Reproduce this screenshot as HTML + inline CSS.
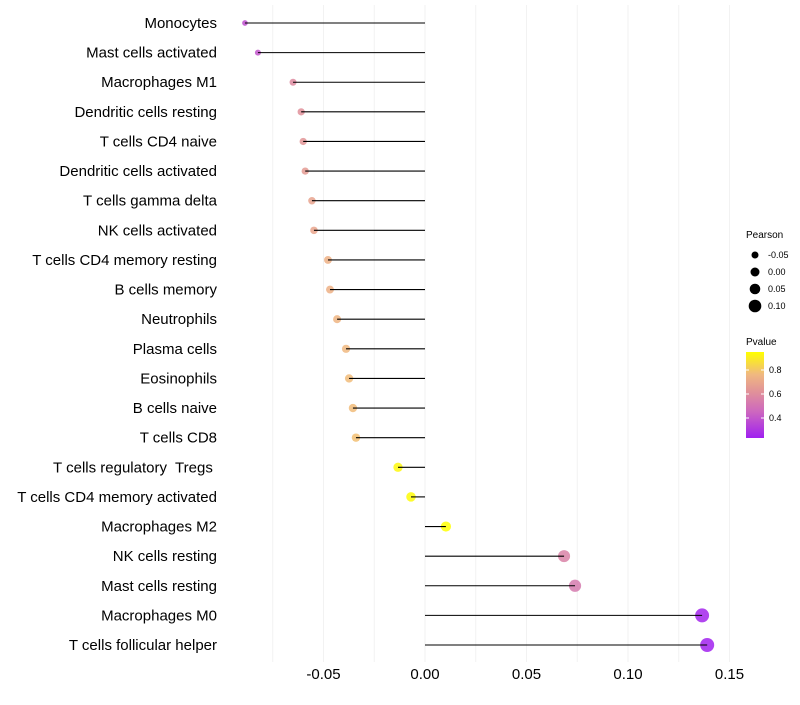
<!DOCTYPE html>
<html><head><meta charset="utf-8"><style>
body{margin:0;background:#fff;width:800px;height:700px;overflow:hidden}
svg{font-family:"Liberation Sans",Arial,sans-serif}
text{white-space:pre}
</style></head><body>
<svg id="chart" width="800" height="700">
<defs><linearGradient id="pg" x1="0" y1="1" x2="0" y2="0">
<stop offset="0" stop-color="#a020f0"/><stop offset="0.3" stop-color="#cc66c0"/><stop offset="0.53" stop-color="#e0909a"/><stop offset="0.74" stop-color="#f0b880"/><stop offset="1" stop-color="#ffff00"/>
</linearGradient></defs>
<g id="grid"></g>
<g id="marks"></g>
<g id="labels"></g>
<g id="xt"></g>
<g font-size="9">
<text x="746" y="238" font-size="10">Pearson</text>
<circle cx="755" cy="255" r="3.5" fill="#000"/><text x="768" y="258">-0.05</text>
<circle cx="755" cy="272" r="4.5" fill="#000"/><text x="768" y="275">0.00</text>
<circle cx="755" cy="289" r="5.3" fill="#000"/><text x="768" y="292">0.05</text>
<circle cx="755" cy="306" r="6.3" fill="#000"/><text x="768" y="309">0.10</text>
</g>
<g font-size="9">
<text x="746" y="345" font-size="10">Pvalue</text>
<rect x="746" y="352" width="18" height="86" fill="url(#pg)"/>
<line x1="746" x2="749" y1="370" y2="370" stroke="#fff"/><line x1="761" x2="764" y1="370" y2="370" stroke="#fff"/>
<line x1="746" x2="749" y1="394" y2="394" stroke="#fff"/><line x1="761" x2="764" y1="394" y2="394" stroke="#fff"/>
<line x1="746" x2="749" y1="418" y2="418" stroke="#fff"/><line x1="761" x2="764" y1="418" y2="418" stroke="#fff"/>
<text x="769" y="373">0.8</text><text x="769" y="397">0.6</text><text x="769" y="421">0.4</text>
</g>
</svg>
<script>
const categories=["Monocytes","Mast cells activated","Macrophages M1","Dendritic cells resting","T cells CD4 naive","Dendritic cells activated","T cells gamma delta","NK cells activated","T cells CD4 memory resting","B cells memory","Neutrophils","Plasma cells","Eosinophils","B cells naive","T cells CD8","T cells regulatory  Tregs ","T cells CD4 memory activated","Macrophages M2","NK cells resting","Mast cells resting","Macrophages M0","T cells follicular helper"];
const pearson=[-0.0887,-0.0823,-0.065,-0.061,-0.060,-0.059,-0.0557,-0.0547,-0.0478,-0.0468,-0.0433,-0.0389,-0.0374,-0.0355,-0.034,-0.0133,-0.0069,0.0103,0.0685,0.0739,0.1365,0.139];
const pvalue=[0.38,0.40,0.58,0.60,0.62,0.64,0.67,0.68,0.72,0.72,0.74,0.75,0.76,0.76,0.77,0.93,0.94,0.95,0.55,0.52,0.25,0.24];
const xTicks=[-0.05,0,0.05,0.1,0.15];
const xTickLabels=["-0.05","0.00","0.05","0.10","0.15"];
const NS="http://www.w3.org/2000/svg";
const X=v=>425+v*2030;
const Y=i=>23+i*(622/21);
const stops=[[0.233,[160,32,240]],[0.45,[204,102,192]],[0.6,[224,144,154]],[0.75,[240,184,128]],[0.95,[255,255,0]]];
function col(p){if(p<=stops[0][0])return stops[0][1];for(let i=1;i<stops.length;i++){if(p<=stops[i][0]){const a=stops[i-1],b=stops[i],t=(p-a[0])/(b[0]-a[0]);return a[1].map((c,k)=>Math.round(c+(b[1][k]-c)*t));}}return stops[stops.length-1][1];}
function mk(tag,attrs,parent){const e=document.createElementNS(NS,tag);for(const k in attrs)e.setAttribute(k,attrs[k]);parent.appendChild(e);return e;}
const grid=document.getElementById('grid'),marks=document.getElementById('marks'),labels=document.getElementById('labels'),xt=document.getElementById('xt');
for(let v=-0.075;v<=0.151;v+=0.025){const g=mk('line',{x1:X(v),x2:X(v),y1:5,y2:662,stroke:'#f2f2f2','stroke-width':1},grid);

}
xTicks.forEach((v,i)=>{const t=mk('text',{x:X(v),y:679,'text-anchor':'middle','font-size':15,fill:'#000'},xt);t.textContent=xTickLabels[i];

});
categories.forEach((c,i)=>{const y=Y(i);const v=pearson[i];
const r=Math.sqrt(Math.max(2.5,24+181*v));const cc=col(pvalue[i]);
const d=mk('circle',{cx:X(v),cy:y,r:r,fill:'rgb('+cc.join(',')+')','fill-opacity':0.85},marks);


const s=mk('line',{x1:X(0),x2:X(v),y1:y,y2:y,stroke:'#000','stroke-width':1.1},marks);


const t=mk('text',{x:217,y:y+5,'text-anchor':'end','font-size':15,fill:'#000'},labels);t.textContent=c;

});
</script>
</body></html>
